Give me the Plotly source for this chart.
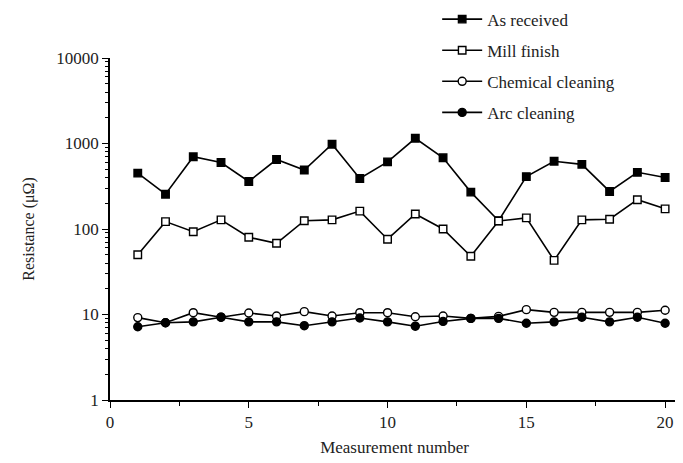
import plotly.graph_objects as go

measurement = list(range(1, 21))
as_received = [450, 255, 700, 600, 360, 650, 490, 980, 390, 610,
               1150, 680, 270, 125, 410, 620, 570, 275, 460, 400]
mill_finish = [50, 122, 93, 128, 80, 68, 125, 128, 162, 76,
               150, 100, 48, 124, 135, 43, 128, 130, 220, 172]
chemical_cleaning = [9.2, 8.0, 10.5, 9.3, 10.4, 9.6, 10.8, 9.6, 10.5, 10.5,
                     9.4, 9.6, 9.0, 9.5, 11.4, 10.6, 10.6, 10.6, 10.6, 11.2]
arc_cleaning = [7.2, 8.0, 8.2, 9.3, 8.2, 8.2, 7.4, 8.2, 9.1, 8.2,
                7.3, 8.3, 9.0, 9.0, 7.9, 8.2, 9.3, 8.2, 9.3, 7.9]
x_ticks = [0, 5, 10, 15, 20]
y_ticks = [1, 10, 100, 1000, 10000]

series = [
    ("As received", as_received, "square", "black"),
    ("Mill finish", mill_finish, "square", "white"),
    ("Chemical cleaning", chemical_cleaning, "circle", "white"),
    ("Arc cleaning", arc_cleaning, "circle", "black"),
]

serif = "Liberation Serif"
fig = go.Figure()
for i, (name, vals, sym, fill) in enumerate(series):
    fig.add_trace(go.Scatter(
        x=measurement, y=vals, name=name, mode="lines+markers",
        legendgroup=f"g{i}",
        line=dict(color="black", width=1.6),
        marker=dict(symbol=sym, size=8 if sym == "circle" else 7.5,
                    color=fill, line=dict(color="black", width=1.4)),
    ))

minor_y = [m * d for d in [1, 10, 100, 1000] for m in range(2, 10)]

fig.update_layout(
    width=675, height=455,
    margin=dict(l=102, r=4, t=50, b=63, autoexpand=False),
    paper_bgcolor="white", plot_bgcolor="white",
    font=dict(family=serif, size=16, color="#222"),
    legend=dict(x=0.575, y=1.165, xanchor="left", yanchor="top",
                bgcolor="rgba(0,0,0,0)", tracegroupgap=6,
                font=dict(family=serif, size=17, color="#222"),
                itemwidth=40),
    showlegend=True,
)
fig.update_xaxes(
    range=[0, 20.5], tickmode="array", tickvals=x_ticks,
    showline=True, linecolor="black", linewidth=1.6,
    ticks="outside", ticklen=6, tickwidth=1.4, tickcolor="black",
    minor=dict(tickvals=[2.5, 7.5, 12.5, 17.5], ticks="outside", ticklen=4,
               tickcolor="black", showgrid=False),
    showgrid=False, zeroline=False,
    tickfont=dict(family=serif, size=17),
    title=dict(text="Measurement number", standoff=10,
               font=dict(family=serif, size=17)),
)
fig.update_yaxes(
    type="log", range=[0, 4], tickmode="array",
    tickvals=y_ticks, ticktext=[str(v) for v in y_ticks],
    showline=True, linecolor="black", linewidth=1.6,
    ticks="outside", ticklen=6, tickwidth=1.4, tickcolor="black",
    minor=dict(tickvals=minor_y, ticks="outside", ticklen=3,
               tickwidth=1, tickcolor="black", showgrid=False),
    showgrid=False, zeroline=False,
    tickfont=dict(family=serif, size=17),
    title=dict(text="Resistance (μΩ)", standoff=18,
               font=dict(family=serif, size=16)),
)

fig.write_html("out.html")
